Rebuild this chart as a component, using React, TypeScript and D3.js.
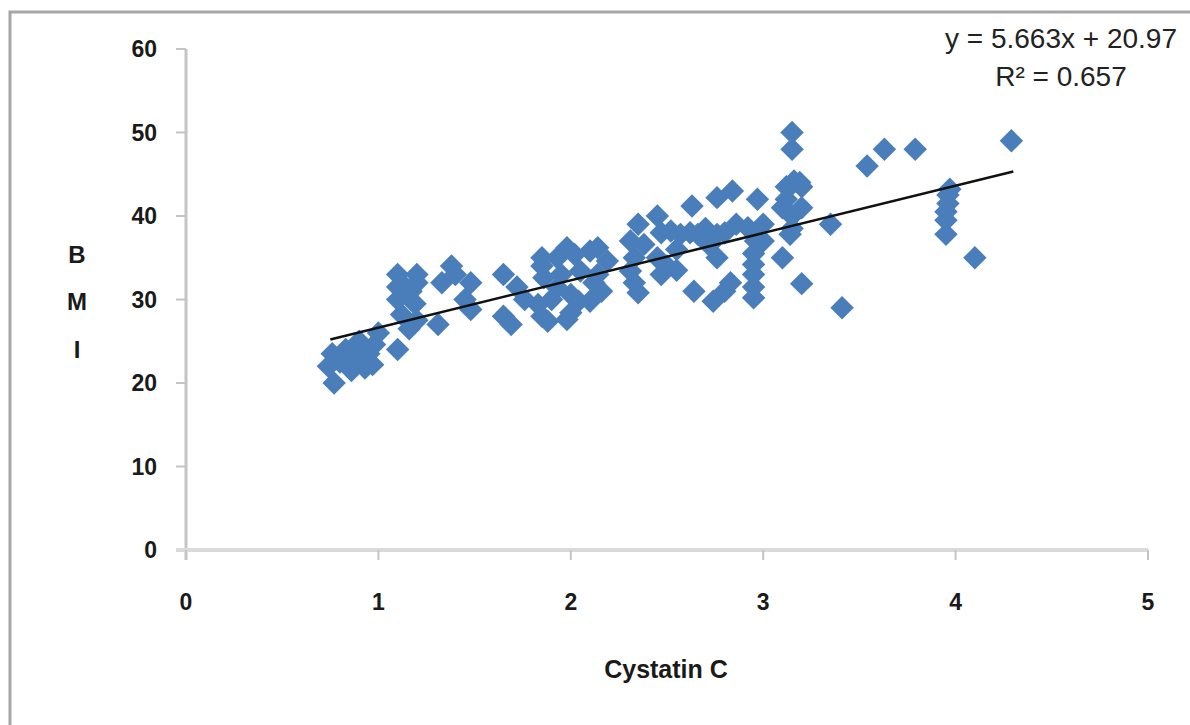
import { useEffect, useRef } from 'react';
import * as d3 from 'd3';

// Cystatin C (x) and BMI (y), one pair per index
const cystatinC = [
  0.77, 0.74, 0.76, 0.8, 0.83, 0.86, 0.88, 0.91, 0.93, 0.95, 0.97, 0.98, 1.0, 0.86, 0.9,
  1.1,
  1.1, 1.2, 1.1, 1.14, 1.19, 1.12, 1.16, 1.2, 1.17, 1.2, 1.1,
  1.31, 1.33, 1.38, 1.4, 1.45, 1.48, 1.48,
  1.65, 1.72, 1.65, 1.69, 1.76,
  1.85, 1.85, 1.86, 1.83, 1.85, 1.88, 1.9, 1.93, 1.93, 1.95, 1.98, 1.98, 2.0, 2.0, 2.02, 2.04, 2.05, 2.1, 2.1, 2.14, 2.14, 2.16, 2.19, 2.12,
  2.31, 2.35, 2.33, 2.31, 2.33, 2.35, 2.38, 2.45, 2.47, 2.45, 2.47, 2.52, 2.5, 2.55, 2.57, 2.55,
  2.63, 2.64, 2.66, 2.7, 2.72, 2.74, 2.76, 2.76, 2.76, 2.8, 2.83, 2.84, 2.86, 2.8, 2.62,
  2.92, 2.95, 2.95, 2.95, 2.95, 2.95, 2.96, 2.96, 2.97, 3.0, 3.0,
  3.1, 3.1, 3.12, 3.14, 3.15, 3.15, 3.15, 3.16, 3.15, 3.15, 3.2, 3.19, 3.2, 3.12, 3.2,
  3.35, 3.41, 3.54, 3.63, 3.79, 3.95, 3.95, 3.95, 3.96, 3.96, 3.97, 4.1, 4.29,
];
const bmi = [
  20, 22, 23.5, 22.5, 24, 22.6, 23.8, 22.4, 21.8, 23.5, 22.2, 24.6, 26, 21.5, 25,
  24,
  33, 33, 30, 31.5, 29.5, 28.2, 26.5, 27.5, 31, 32, 31.5,
  27, 32, 34, 33, 30, 32, 28.8,
  33, 31.5, 28, 27, 30,
  35, 34, 32.6, 29.4, 28, 27.4, 30, 31.4, 35, 33, 36.2, 27.6, 28.4, 30.6, 35.4, 29.8, 33.4, 35.8, 29.8, 36.2, 33, 31, 34.6, 32,
  37, 39, 35, 33.4, 32, 30.8, 36.6, 40, 38, 35, 33, 38.2, 34, 36, 37.8, 33.5,
  41.2, 31, 37.8, 38.5, 36.5, 29.8, 35, 42.2, 37.8, 31, 32, 43, 39, 38, 38,
  38.6, 30.2, 31.5, 33, 34.2, 35.5, 37, 38, 42, 39, 37,
  35, 41, 42, 37.8, 38.5, 40, 43.8, 44.2, 48, 50, 41, 44, 31.9, 43.5, 43.5,
  39, 29, 46, 48, 48, 37.8, 39.5, 40.5, 41.5, 42.5, 43.2, 35, 49,
];

const xTicks = [0, 1, 2, 3, 4, 5];
const yTicks = [0, 10, 20, 30, 40, 50, 60];

const slope = 5.663;
const intercept = 20.97;
const trendFrom = 0.75;
const trendTo = 4.3;
const eqLabel = 'y = 5.663x + 20.97';
const r2Label = 'R² = 0.657';

const W = 1190, H = 725;
const font = '"Liberation Sans", Arial, sans-serif';

export default function App() {
  const ref = useRef<SVGSVGElement>(null);

  useEffect(() => {
    const svg = d3.select(ref.current);
    svg.selectAll('*').remove();

    const x = d3.scaleLinear().domain([0, 5]).range([186, 1148]);
    const y = d3.scaleLinear().domain([0, 60]).range([550, 49]);

    // outer frame (right and bottom fall off the picture)
    svg.append('rect')
      .attr('x', 10).attr('y', 12).attr('width', 1300).attr('height', 900)
      .attr('fill', 'none').attr('stroke', '#a6a6a6').attr('stroke-width', 3);

    // y axis
    svg.append('line')
      .attr('x1', x(0)).attr('x2', x(0)).attr('y1', y(60)).attr('y2', y(0) + 10)
      .attr('stroke', '#c4c4c4').attr('stroke-width', 3);
    yTicks.forEach(t => {
      svg.append('line')
        .attr('x1', x(0) - 10).attr('x2', x(0)).attr('y1', y(t)).attr('y2', y(t))
        .attr('stroke', '#c4c4c4').attr('stroke-width', 2);
      svg.append('text')
        .attr('x', 157).attr('y', y(t)).attr('dy', '0.35em')
        .attr('text-anchor', 'end')
        .style('font-family', font).style('font-size', '23px').style('font-weight', 700)
        .style('fill', '#1a1a1a')
        .text(t);
    });

    // x axis
    svg.append('line')
      .attr('x1', x(0) - 10).attr('x2', x(5)).attr('y1', y(0)).attr('y2', y(0))
      .attr('stroke', '#dadada').attr('stroke-width', 4);
    xTicks.forEach(t => {
      svg.append('line')
        .attr('x1', x(t)).attr('x2', x(t)).attr('y1', y(0)).attr('y2', y(0) + 10)
        .attr('stroke', '#c4c4c4').attr('stroke-width', 2);
      svg.append('text')
        .attr('x', x(t)).attr('y', 602).attr('dy', '0.35em')
        .attr('text-anchor', 'middle')
        .style('font-family', font).style('font-size', '23px').style('font-weight', 700)
        .style('fill', '#1a1a1a')
        .text(t);
    });

    // points
    const diamond = d3.symbol(d3.symbolSquare, 275)();
    svg.append('g').selectAll('path')
      .data(d3.range(cystatinC.length)).enter().append('path')
      .attr('d', diamond)
      .attr('transform', i => `translate(${x(cystatinC[i])},${y(bmi[i])}) rotate(45)`)
      .attr('fill', '#4a7ebb');

    // linear trendline
    svg.append('line')
      .attr('x1', x(trendFrom)).attr('y1', y(slope * trendFrom + intercept))
      .attr('x2', x(trendTo)).attr('y2', y(slope * trendTo + intercept))
      .attr('stroke', '#111').attr('stroke-width', 2.5);

    // equation
    svg.append('text')
      .attr('x', 1061).attr('y', 48).attr('text-anchor', 'middle')
      .style('font-family', font).style('font-size', '28px').style('fill', '#222')
      .text(eqLabel);
    svg.append('text')
      .attr('x', 1061).attr('y', 86).attr('text-anchor', 'middle')
      .style('font-family', font).style('font-size', '28px').style('fill', '#222')
      .text(r2Label);

    // axis titles
    ['B', 'M', 'I'].forEach((c, i) => {
      svg.append('text')
        .attr('x', 77).attr('y', [255, 302, 350][i]).attr('dy', '0.35em')
        .attr('text-anchor', 'middle')
        .style('font-family', font).style('font-size', '24px').style('font-weight', 700)
        .style('fill', '#1a1a1a')
        .text(c);
    });
    svg.append('text')
      .attr('x', 666).attr('y', 669).attr('dy', '0.35em')
      .attr('text-anchor', 'middle')
      .style('font-family', font).style('font-size', '25px').style('font-weight', 700)
      .style('fill', '#1a1a1a')
      .text('Cystatin C');
  }, []);

  return (
    <svg ref={ref} width={W} height={H}
      style={{ position: 'absolute', left: 0, top: 0, background: '#fff' }} />
  );
}
